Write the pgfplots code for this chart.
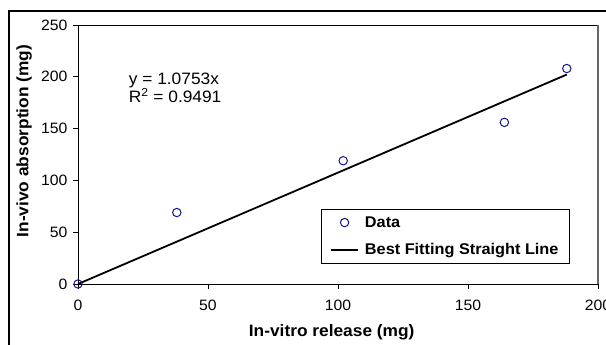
\documentclass[border=0pt]{standalone}
\usepackage{pgfplots}
\pgfplotsset{compat=1.18}
\usepackage{fontspec}
\setmainfont{Liberation Sans}[FakeStretch=1.05]
\definecolor{navyblue}{RGB}{20,20,150}
\pgfplotsset{
  markleg/.style={legend image code/.code={\draw[mark repeat=2,mark phase=2,##1] plot coordinates {(0bp,0bp) (13.5bp,0bp) (27bp,0bp)}; \path (0bp,0bp) (27bp,0bp);}},
  lineleg/.style={legend image code/.code={\draw[##1] (0bp,0bp) -- (27bp,0bp);}},
}
\begin{document}
\begin{tikzpicture}
\path[use as bounding box] (0bp,0bp) rectangle (606bp,345bp);
\begin{scope}
\clip (0bp,0bp) rectangle (606bp,345bp);
\draw[line width=1.2bp] (9bp,-20bp) rectangle (640bp,334bp);
\begin{axis}[
  at={(78bp,61bp)}, anchor=south west,
  scale only axis, width=520bp, height=259bp,
  xmin=0, xmax=200, ymin=0, ymax=250,
  xtick={0,50,...,200}, ytick={0,50,...,250},
  tick align=outside, major tick length=5bp, tick pos=left,
  axis line style={line width=1bp},
  tick style={line width=1bp, black},
  ticklabel style={font=\fontsize{15bp}{18bp}\selectfont},
  xticklabel style={yshift=-8bp},
  yticklabel style={xshift=-2bp},
  /pgf/number format/assume math mode=true,
  xlabel={In-vitro release (mg)},
  ylabel={In-vivo absorption (mg)},
  label style={font=\fontsize{16.5bp}{19bp}\selectfont\bfseries},
  xlabel style={at={(axis description cs:0.4879,-0.2035)}, anchor=base},
  ylabel style={at={(axis description cs:-0.0952,0.552)}, anchor=base},
  clip=false,
  legend cell align=left,
  legend style={at={(axis description cs:0.4667,0.2896)}, anchor=north west,
    draw=black, line width=1bp,
    font=\fontsize{15.5bp}{18bp}\selectfont\bfseries,
    inner xsep=9bp, inner ysep=5bp, row sep=11bp,
    /tikz/every odd column/.append style={column sep=4bp}},
  after end axis/.code={\draw[gray!80!black, line width=1.2bp] (rel axis cs:1,0) -- (rel axis cs:1,1);},
]
\addplot[only marks, mark=o, mark size=4.2bp, navyblue, mark options={line width=1bp}, markleg]
  coordinates {(0,0) (38,69) (102,119) (164,156) (188,208)};
\addlegendentry{Data}
\addplot[black, line width=1.8bp, lineleg]
  coordinates {(0,0) (188,202.16)};
\addlegendentry{Best Fitting Straight Line}
\node[anchor=base west, font=\fontsize{16.5bp}{19bp}\selectfont, inner sep=0pt] at (axis description cs:0.0975,0.772) {y = 1.0753x};
\node[anchor=base west, font=\fontsize{16.5bp}{19bp}\selectfont, inner sep=0pt] at (axis description cs:0.0975,0.700) {R\textsuperscript{2} = 0.9491};
\end{axis}
\end{scope}
\end{tikzpicture}
\end{document}
